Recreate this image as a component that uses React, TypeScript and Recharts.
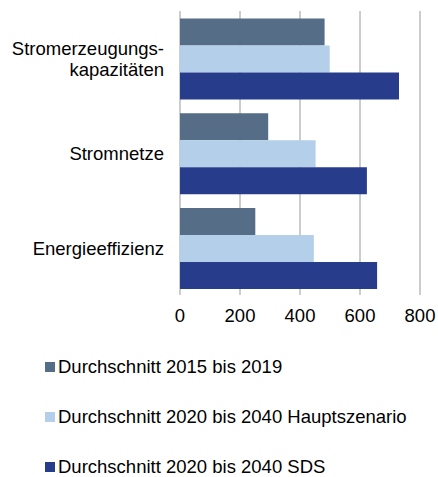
import React from "react";
import { Bar, BarChart, CartesianGrid, Legend, XAxis, YAxis } from "recharts";

const categories = ["Stromerzeugungs-\nkapazitäten", "Stromnetze", "Energieeffizienz"];
const avg2015to2019 = [482, 294, 251];
const avgMainScenario = [499, 452, 446];
const avgSds = [730, 623, 657];
const xTicks = [0, 200, 400, 600, 800];

const series = [
  { key: "a", name: "Durchschnitt 2015 bis 2019", color: "#566d87", values: avg2015to2019 },
  { key: "b", name: "Durchschnitt 2020 bis 2040 Hauptszenario", color: "#b4cfe9", values: avgMainScenario },
  { key: "c", name: "Durchschnitt 2020 bis 2040 SDS", color: "#283c8c", values: avgSds },
];

const data = categories.map((name, i) => {
  const row: Record<string, string | number> = { name };
  series.forEach((s) => {
    row[s.key] = s.values[i];
  });
  return row;
});

const FONT = "'Liberation Sans', Arial, sans-serif";
const FONT_SIZE = 18.5;

const CategoryTick = (props: any) => {
  const { x, y, payload } = props;
  const lines = String(payload.value).split("\n");
  const lineHeight = 21;
  const startDy = -((lines.length - 1) * lineHeight) / 2;
  return (
    <text x={x} y={y} textAnchor="end" fontSize={FONT_SIZE} fill="#000" fontFamily={FONT} dominantBaseline="central">
      {lines.map((line, i) => (
        <tspan key={i} x={x} dy={i === 0 ? startDy : lineHeight}>
          {line}
        </tspan>
      ))}
    </text>
  );
};

// legend rows 50px apart
const LegendList = () => (
  <div style={{ fontFamily: FONT, fontSize: FONT_SIZE, color: "#000", lineHeight: 1 }}>
    {series.map((s, i) => (
      <div key={s.key} style={{ display: "flex", alignItems: "center", height: 18, marginTop: i === 0 ? 0 : 32 }}>
        <span style={{ display: "inline-block", width: 10, height: 10, background: s.color, marginRight: 3 }} />
        <span>{s.name}</span>
      </div>
    ))}
  </div>
);

const App = () => {
  // pinned to the page corner so nothing scrolls
  return (
    <div style={{ position: "absolute", left: 0, top: 0 }}>
      <BarChart
        width={438}
        height={477}
        data={data}
        layout="vertical"
        margin={{ top: 11, right: 18, left: 0, bottom: 152 }}
        barGap={0}
        barCategoryGap="8%"
      >
        <CartesianGrid horizontal={false} stroke="#9a9a9a" />
        <XAxis
          type="number"
          domain={[0, 800]}
          ticks={xTicks}
          axisLine={false}
          tickLine={false}
          tickMargin={8}
          tick={{ fontSize: FONT_SIZE, fill: "#000", fontFamily: FONT }}
          height={30}
        />
        <YAxis
          type="category"
          dataKey="name"
          width={180}
          axisLine={false}
          tickLine={false}
          tickMargin={10}
          tick={<CategoryTick />}
        />
        <Legend
          layout="vertical"
          verticalAlign="middle"
          align="center"
          content={<LegendList />}
          wrapperStyle={{ top: 358, left: 45, width: 390 }}
        />
        {series.map((s) => (
          <Bar key={s.key} dataKey={s.key} name={s.name} fill={s.color} isAnimationActive={false} />
        ))}
      </BarChart>
    </div>
  );
};

export default App;
